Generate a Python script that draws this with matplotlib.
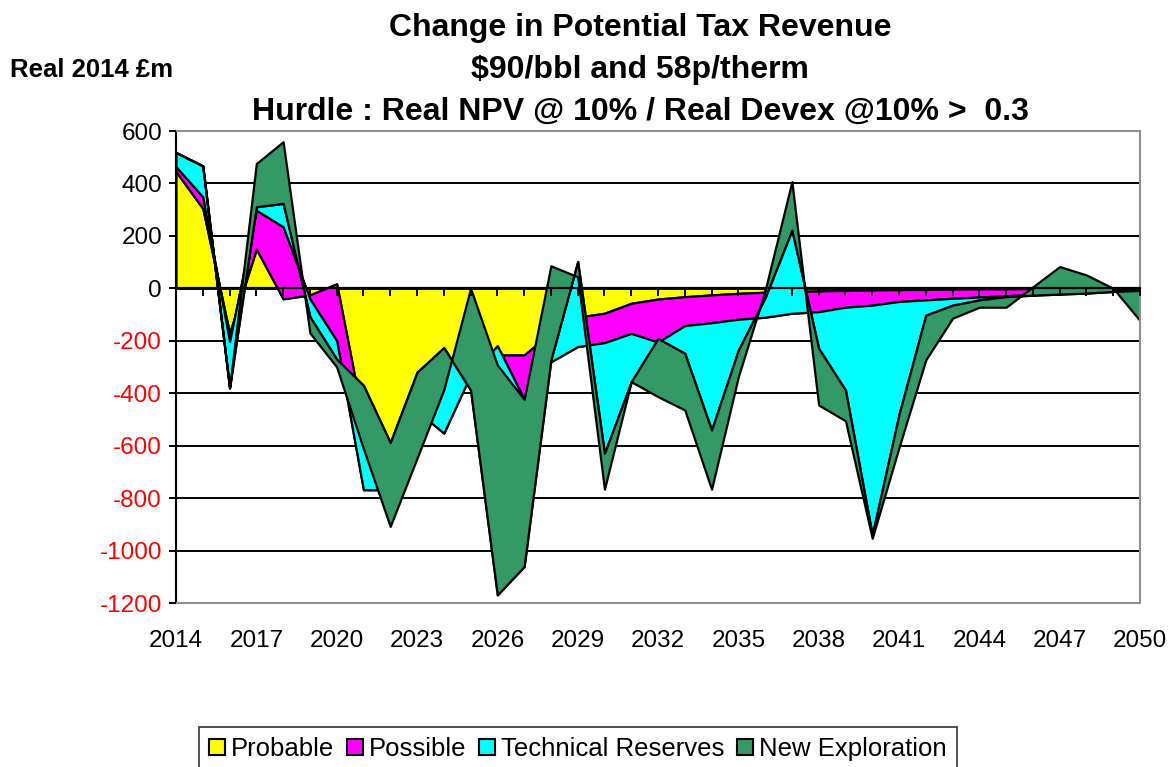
import matplotlib
matplotlib.use("Agg")
import matplotlib.pyplot as plt
import matplotlib.transforms as mtransforms
from matplotlib.patches import Rectangle, Patch
import numpy as np

plt.rcParams['font.family'] = ['Liberation Sans', 'DejaVu Sans']

years = list(range(2014, 2051))
probable = [445, 305, -171, 150, -40, -25, 17, -507, -620, -420, -350, -300, -254, -254, -170, -110,
            -95, -57, -41, -32, -25, -19, -15, -12, -10, -8, -6, -5, -4, -3, -2, -2, -1, -1, -1, 0, 0]
possible = [19, 44, -32, 148, 275, -15, -217, -261, -148, -47, -202, -30, 35, -169, -110, -112,
            -112, -115, -164, -110, -106, -99, -95, -83, -79, -64, -58, -45, -40, -35, -31, -26, -23, -19, -15, -10, -6]
technical = [54, 118, -177, 13, 89, -68, -70, 398, 180, 147, 326, -58, -950, -638, 7, 324,
             -422, -184, 14, -106, -409, -117, 75, 317, -140, -316, -876, -430, -58, -26, -11, -4, -2, -2, -2, -2, -2]
new_exploration = [0, 0, 0, 165, 235, -62, -30, -242, -320, -328, -161, 388, 877, 638, 359, -58,
                   -137, 0, -222, -216, -226, -102, 27, 185, -216, -117, -13, -127, -171, -50, -28, -40, 32, 105, 69, 12, -115]

series_names = ["Probable", "Possible", "Technical Reserves", "New Exploration"]
colors = ["#FFFF00", "#FF00FF", "#00FFFF", "#339966"]
yticks = list(range(-1200, 601, 200))
xlabel_years = list(range(2014, 2051, 3))

W, H = 1176, 767
fig = plt.figure(figsize=(W / 100, H / 100), dpi=100)
ax = fig.add_axes([176 / W, 1 - 603 / H, (1140 - 176) / W, (603 - 131) / H])

ax.set_xlim(years[0], years[-1])
ax.set_ylim(yticks[0], yticks[-1])
ax.set_axisbelow(False)

for yv in yticks[1:-1]:
    ax.axhline(yv, color='black', lw=1.4, zorder=0)

ax.stackplot(years, probable, possible, technical, new_exploration,
             colors=colors, edgecolor='black', linewidth=1.6, zorder=2)

# frame
for s in ['top', 'right']:
    ax.spines[s].set_color('#909090')
    ax.spines[s].set_linewidth(1.5)
ax.spines['left'].set_color('black')
ax.spines['left'].set_linewidth(1.5)
ax.spines['bottom'].set_position(('data', 0))
ax.spines['bottom'].set_color('black')
ax.spines['bottom'].set_linewidth(1.6)
ax.spines['bottom'].set_zorder(5)
ax.add_patch(Rectangle((0, 0), 1, 0, transform=ax.transAxes, fill=False,
                       edgecolor='#909090', lw=1.5, clip_on=False, zorder=5))

ax.set_xticks(years)
ax.tick_params(axis='x', direction='out', length=6, width=1.4, color='black',
               labelbottom=False)
ax.set_yticks(yticks)
ax.tick_params(axis='y', direction='out', length=5, width=1.4, color='black',
               labelsize=17.5, pad=5)
ax.set_yticklabels([str(v) for v in yticks])
for lab, v in zip(ax.get_yticklabels(), yticks):
    lab.set_color('red' if v < 0 else 'black')

trans = mtransforms.blended_transform_factory(ax.transData, ax.transAxes)
for yr in xlabel_years:
    ax.text(yr, -0.058, str(yr), transform=trans, ha='center', va='top', fontsize=17.5)

fig.text(640 / W, 1 - 28 / H, "Change in Potential Tax Revenue", ha='center', va='center',
         fontsize=23, fontweight='bold')
fig.text(640 / W, 1 - 70 / H, "$90/bbl and 58p/therm", ha='center', va='center',
         fontsize=23, fontweight='bold')
fig.text(640 / W, 1 - 112 / H, "Hurdle : Real NPV @ 10% / Real Devex @10% >  0.3", ha='center',
         va='center', fontsize=23, fontweight='bold')
fig.text(10 / W, 1 - 70 / H, "Real 2014 £m", ha='left', va='center', fontsize=18.5, fontweight='bold')

handles = [Patch(facecolor=c, edgecolor='black', lw=1.5) for c in colors]
leg = fig.legend(handles, series_names, loc='upper center', bbox_to_anchor=(578 / W, 1 - 727 / H),
                 ncol=4, fontsize=18.5, frameon=True, fancybox=False, handlelength=0.6,
                 handleheight=0.6, handletextpad=0.25, columnspacing=0.5, borderpad=0.4,
                 borderaxespad=0)
leg.get_frame().set_edgecolor('black')
leg.get_frame().set_linewidth(1.2)

fig.savefig("out.png", dpi=100)
